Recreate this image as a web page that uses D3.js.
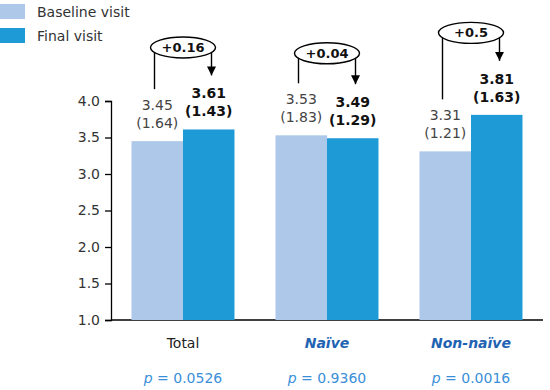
<!DOCTYPE html>
<html>
<head>
<meta charset="utf-8">
<script src="https://cdn.jsdelivr.net/npm/d3@7"></script>
<style>
  body { margin: 0; background: #fff; }
  text { font-family: "DejaVu Sans", sans-serif; }
</style>
</head>
<body>
<svg id="svg" width="550" height="390"></svg>
<script>
// data
const groups = ['Total', 'Naïve', 'Non-naïve'];
const baseline = [3.45, 3.53, 3.31];
const baselineSd = [1.64, 1.83, 1.21];
const finalVisit = [3.61, 3.49, 3.81];
const finalSd = [1.43, 1.29, 1.63];
const changes = ['+0.16', '+0.04', '+0.5'];
const pValues = ['0.0526', '0.9360', '0.0016'];
const yTicks = [1.0, 1.5, 2.0, 2.5, 3.0, 3.5, 4.0];

const baseColor = '#adc8e8';
const finalColor = '#1e9bd7';

const svg = d3.select('#svg');

const x = d3.scaleBand()
  .domain(groups)
  .range([111, 543])
  .paddingInner(0.285)
  .paddingOuter(0.1425);

const sub = d3.scaleBand()
  .domain(['base', 'final'])
  .range([0, x.bandwidth()]);

const y = d3.scaleLinear().domain([1, 4]).range([320, 101]);

/*********************
 * Axes
 *********************/
const yAxis = svg.append('g')
  .attr('transform', 'translate(111,0)')
  .call(d3.axisLeft(y).tickValues(yTicks).tickFormat(d3.format('.1f')).tickSizeOuter(0).tickSize(6));
yAxis.select('.domain').attr('stroke', '#000').attr('stroke-width', 1.3);
yAxis.selectAll('.tick line').attr('stroke', '#000').attr('stroke-width', 1.3);
yAxis.selectAll('.tick text')
  .attr('font-size', 14)
  .attr('fill', '#333')
  .attr('x', -11)
  .style('font-family', '"DejaVu Sans", sans-serif');

svg.append('line')
  .attr('x1', 111).attr('x2', 543)
  .attr('y1', y(1)).attr('y2', y(1))
  .attr('stroke', '#000').attr('stroke-width', 1.5);

/*********************
 * Bars
 *********************/
const rows = groups.map((g, i) => ({
  g, i,
  base: baseline[i], baseSd: baselineSd[i],
  fin: finalVisit[i], finSd: finalSd[i]
}));

const gg = svg.selectAll('g.grp')
  .data(rows)
  .enter().append('g')
  .attr('class', 'grp')
  .attr('transform', d => `translate(${x(d.g)},0)`);

gg.append('rect')
  .attr('x', sub('base'))
  .attr('width', sub.bandwidth())
  .attr('y', d => y(d.base))
  .attr('height', d => y(1) - y(d.base))
  .attr('fill', baseColor);

gg.append('rect')
  .attr('x', sub('final'))
  .attr('width', sub.bandwidth())
  .attr('y', d => y(d.fin))
  .attr('height', d => y(1) - y(d.fin))
  .attr('fill', finalColor);

// value labels (mean and sd on two lines)
function labelLines(sel, key, val, sd, bold) {
  const cx = sub(key) + sub.bandwidth() / 2;
  const t = sel.append('text')
    .attr('text-anchor', 'middle')
    .attr('font-size', 14)
    .attr('font-weight', bold ? 'bold' : 'normal')
    .attr('fill', bold ? '#111' : '#444');
  t.append('tspan').attr('x', cx).attr('y', d => y(d[val]) - 31).text(d => d[val].toFixed(2));
  t.append('tspan').attr('x', cx).attr('y', d => y(d[val]) - 13).text(d => `(${d[sd].toFixed(2)})`);
}
labelLines(gg, 'base', 'base', 'baseSd', false);
labelLines(gg, 'final', 'fin', 'finSd', true);

/*********************
 * Change callouts
 *********************/
svg.append('defs').append('marker')
  .attr('id', 'arrow')
  .attr('viewBox', '0 0 10 10')
  .attr('refX', 10).attr('refY', 5)
  .attr('markerWidth', 9).attr('markerHeight', 10)
  .attr('markerUnits', 'userSpaceOnUse')
  .attr('orient', 'auto')
  .append('path').attr('d', 'M0,0L10,5L0,10Z').attr('fill', '#000');

gg.each(function (d, i) {
  const g = d3.select(this);
  const mid = x.bandwidth() / 2;
  const baseTop = y(d.base) - 31 - 11;
  const finTop = y(d.fin) - 31 - 11;
  const cy = Math.min(baseTop, finTop) - 40;
  const rx = 32.5, ry = 10.5;
  g.append('line')
    .attr('x1', mid - rx + 4).attr('x2', mid - rx + 4)
    .attr('y1', cy).attr('y2', baseTop - 10)
    .attr('stroke', '#000').attr('stroke-width', 1.4);
  g.append('line')
    .attr('x1', mid + rx - 4).attr('x2', mid + rx - 4)
    .attr('y1', cy).attr('y2', finTop - 12)
    .attr('stroke', '#000').attr('stroke-width', 1.4)
    .attr('marker-end', 'url(#arrow)');
  g.append('ellipse')
    .attr('cx', mid).attr('cy', cy)
    .attr('rx', rx).attr('ry', ry)
    .attr('fill', '#fff').attr('stroke', '#000').attr('stroke-width', 1.4);
  g.append('text')
    .attr('x', mid).attr('y', cy + 4.5)
    .attr('text-anchor', 'middle')
    .attr('font-size', 13).attr('font-weight', 'bold')
    .attr('fill', '#111')
    .text(changes[i]);
});

/*********************
 * Category and p labels
 *********************/
svg.selectAll('text.cat')
  .data(groups)
  .enter().append('text')
  .attr('class', 'cat')
  .attr('x', d => x(d) + x.bandwidth() / 2)
  .attr('y', 348)
  .attr('text-anchor', 'middle')
  .attr('font-size', 14)
  .attr('font-weight', (d, i) => i ? 'bold' : 'normal')
  .attr('font-style', (d, i) => i ? 'italic' : 'normal')
  .attr('fill', (d, i) => i ? '#1f63b3' : '#222')
  .text(d => d);

svg.selectAll('text.pv')
  .data(pValues)
  .enter().append('text')
  .attr('class', 'pv')
  .attr('x', (d, i) => x(groups[i]) + x.bandwidth() / 2)
  .attr('y', 383)
  .attr('text-anchor', 'middle')
  .attr('font-size', 14)
  .attr('fill', '#3a8fd8')
  .html(d => `<tspan font-style="italic">p</tspan> = ${d}`);

/*********************
 * Legend
 *********************/
const legend = [['Baseline visit', baseColor], ['Final visit', finalColor]];
const lg = svg.selectAll('g.leg')
  .data(legend)
  .enter().append('g')
  .attr('class', 'leg')
  .attr('transform', (d, i) => `translate(0,${4 + i * 24})`);
lg.append('rect').attr('width', 25).attr('height', 15).attr('fill', d => d[1]);
lg.append('text')
  .attr('x', 37).attr('y', 13)
  .attr('font-size', 14)
  .attr('fill', '#333')
  .text(d => d[0]);
</script>
</body>
</html>
